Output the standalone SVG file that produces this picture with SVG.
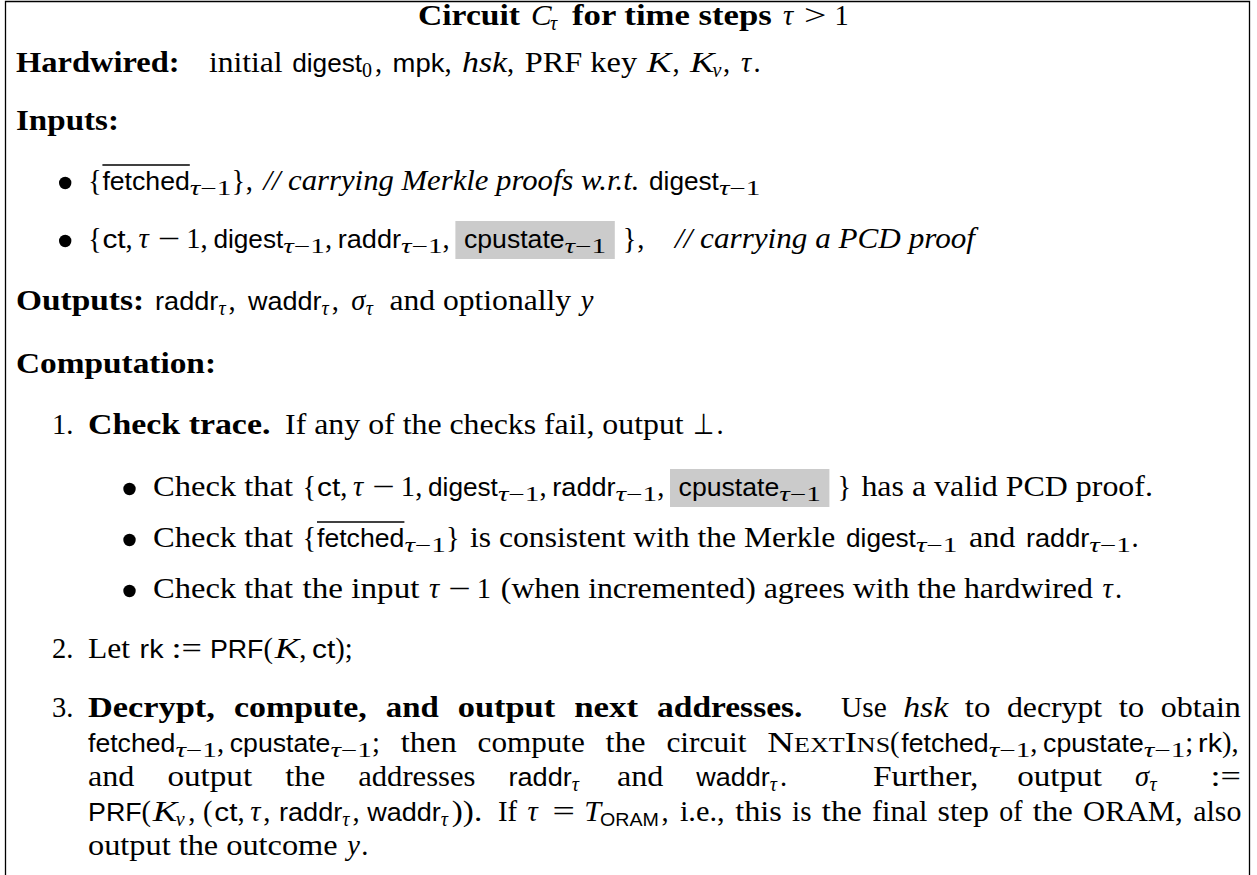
<svg xmlns="http://www.w3.org/2000/svg" width="1257" height="875" viewBox="0 0 1257 875">
<style>
.r,.b,.i,.sr,.si{font-family:"Liberation Serif","Times New Roman",serif;fill:#000}
.r,.b,.i{font-size:28.5px}
.b{font-weight:bold}
.i,.si,.it{font-style:italic}
.s{font-family:"Liberation Sans",Arial,sans-serif;font-size:25.5px;fill:#000}
.sr,.si{font-size:20px}
.ss{font-family:"Liberation Sans",Arial,sans-serif;font-size:18px;fill:#000}
.sc{font-variant:small-caps}
.bul{fill:#000}
.ov{stroke:#000;stroke-width:1.3}
.hl{fill:#cbcbcb}
.frame{fill:none;stroke:#000;stroke-width:1.3}
</style>
<rect width="1257" height="875" fill="#fff"/>
<g id="frame"><path class="frame" d="M5.5,876 V1.5 H1249.5 V876"/></g>

<g id="title">
<text class="b" x="418" y="25" textLength="102" lengthAdjust="spacingAndGlyphs">Circuit</text>
<text class="i" x="531" y="25" textLength="20.6" lengthAdjust="spacingAndGlyphs">C</text>
<text class="si" x="550" y="30">τ</text>
<text class="b" x="572" y="25" textLength="199.8" lengthAdjust="spacingAndGlyphs">for time steps</text>
<text class="i" x="783" y="25">τ</text>
<text class="r" x="804" y="25" textLength="22.4" lengthAdjust="spacingAndGlyphs">&gt;</text>
<text class="r" x="834.4" y="25">1</text>
</g>

<g id="hardwired">
<text class="b" x="16" y="72" textLength="163.6" lengthAdjust="spacingAndGlyphs">Hardwired:</text>
<text class="r" x="209" y="72" textLength="73.6" lengthAdjust="spacingAndGlyphs">initial</text>
<text class="s" x="292.2" y="72" textLength="69.9" lengthAdjust="spacingAndGlyphs">digest</text>
<text class="sr" x="362.1" y="77">0</text>
<text class="r" x="375" y="72">,</text>
<text class="s" x="392.6" y="72" textLength="51.8" lengthAdjust="spacingAndGlyphs">mpk</text>
<text class="r" x="444.4" y="72">,</text>
<text class="i" x="462" y="72" textLength="45.1" lengthAdjust="spacingAndGlyphs">hsk</text>
<text class="r" x="507.1" y="72">,</text>
<text class="r" x="524.7" y="72" textLength="112.4" lengthAdjust="spacingAndGlyphs">PRF key</text>
<text class="i" x="646.7" y="72" textLength="24.5" lengthAdjust="spacingAndGlyphs">K</text>
<text class="r" x="672.4" y="72">,</text>
<text class="i" x="690" y="72" textLength="24.5" lengthAdjust="spacingAndGlyphs">K</text>
<text class="si" x="712.5" y="77">v</text>
<text class="r" x="723" y="72">,</text>
<text class="i" x="741" y="72">τ</text>
<text class="r" x="753.5" y="72">.</text>
</g>

<g id="inputs">
<text class="b" x="16" y="130" textLength="102.9" lengthAdjust="spacingAndGlyphs">Inputs:</text>
</g>

<g id="input-1">
<circle class="bul" cx="65.2" cy="183" r="6.2"/>
<text class="r" x="88" y="190">{</text>
<text class="s" x="102.4" y="190" textLength="87.4" lengthAdjust="spacingAndGlyphs">fetched</text>
<line class="ov" x1="102.4" y1="165" x2="189.8" y2="165"/>
<text class="sr" x="189.8" y="195" textLength="41.6" lengthAdjust="spacingAndGlyphs"><tspan class="it">τ</tspan>−1</text>
<text class="r" x="231.4" y="190">}</text>
<text class="r" x="245.8" y="190">,</text>
<text class="i" x="263.4" y="190" textLength="376" lengthAdjust="spacingAndGlyphs">// carrying Merkle proofs w.r.t.</text>
<text class="s" x="649" y="190" textLength="69.9" lengthAdjust="spacingAndGlyphs">digest</text>
<text class="sr" x="718.9" y="195" textLength="41.6" lengthAdjust="spacingAndGlyphs"><tspan class="it">τ</tspan>−1</text>
</g>

<g id="input-2">
<circle class="bul" cx="65.2" cy="241" r="6.2"/>
<rect class="hl" x="455.4" y="221" width="159.4" height="38"/>
<text class="r" x="88" y="248">{</text>
<text class="s" x="102.4" y="248" textLength="23.2" lengthAdjust="spacingAndGlyphs">ct</text>
<text class="r" x="125.6" y="248">,</text>
<text class="i" x="138.4" y="248">τ</text>
<text class="r" x="157.4" y="248" textLength="22.4" lengthAdjust="spacingAndGlyphs">−</text>
<text class="r" x="186.2" y="248">1</text>
<text class="r" x="200.6" y="248">,</text>
<text class="s" x="213.4" y="248" textLength="69.9" lengthAdjust="spacingAndGlyphs">digest</text>
<text class="sr" x="283.3" y="253" textLength="41.6" lengthAdjust="spacingAndGlyphs"><tspan class="it">τ</tspan>−1</text>
<text class="r" x="324.9" y="248">,</text>
<text class="s" x="337.7" y="248" textLength="63.3" lengthAdjust="spacingAndGlyphs">raddr</text>
<text class="sr" x="401" y="253" textLength="41.6" lengthAdjust="spacingAndGlyphs"><tspan class="it">τ</tspan>−1</text>
<text class="r" x="442.6" y="248">,</text>
<text class="s" x="464" y="248" textLength="100.6" lengthAdjust="spacingAndGlyphs">cpustate</text>
<text class="sr" x="564.6" y="253" textLength="41.6" lengthAdjust="spacingAndGlyphs"><tspan class="it">τ</tspan>−1</text>
<text class="r" x="622.8" y="248">}</text>
<text class="r" x="637.2" y="248">,</text>
<text class="i" x="675" y="248" textLength="300" lengthAdjust="spacingAndGlyphs">// carrying a PCD proof</text>
</g>

<g id="outputs">
<text class="b" x="16" y="310" textLength="128.1" lengthAdjust="spacingAndGlyphs">Outputs:</text>
<text class="s" x="155.1" y="310" textLength="63.3" lengthAdjust="spacingAndGlyphs">raddr</text>
<text class="si" x="218.4" y="315">τ</text>
<text class="r" x="228.5" y="310">,</text>
<text class="s" x="248.1" y="310" textLength="73.5" lengthAdjust="spacingAndGlyphs">waddr</text>
<text class="si" x="321.6" y="315">τ</text>
<text class="r" x="331.7" y="310">,</text>
<text class="i" x="351.3" y="310">σ</text>
<text class="si" x="365.7" y="315">τ</text>
<text class="r" x="389.4" y="310" textLength="181.7" lengthAdjust="spacingAndGlyphs">and optionally</text>
<text class="i" x="580.7" y="310">y</text>
</g>

<g id="computation">
<text class="b" x="16" y="373" textLength="200" lengthAdjust="spacingAndGlyphs">Computation:</text>
</g>

<g id="step-1">
<text class="r" x="52" y="434">1.</text>
<text class="b" x="88" y="434" textLength="182.4" lengthAdjust="spacingAndGlyphs">Check trace.</text>
<text class="r" x="285.1" y="434" textLength="398.6" lengthAdjust="spacingAndGlyphs">If any of the checks fail, output</text>
<text class="r" x="693.3" y="434" textLength="21" lengthAdjust="spacingAndGlyphs">⊥</text>
<text class="r" x="716.5" y="434">.</text>
</g>

<g id="check-1">
<circle class="bul" cx="129.5" cy="489" r="6.2"/>
<rect class="hl" x="670" y="469" width="159.4" height="38"/>
<text class="r" x="153" y="496" textLength="140" lengthAdjust="spacingAndGlyphs">Check that</text>
<text class="r" x="302.6" y="496">{</text>
<text class="s" x="317" y="496" textLength="23.2" lengthAdjust="spacingAndGlyphs">ct</text>
<text class="r" x="340.2" y="496">,</text>
<text class="i" x="353" y="496">τ</text>
<text class="r" x="372" y="496" textLength="22.4" lengthAdjust="spacingAndGlyphs">−</text>
<text class="r" x="400.8" y="496">1</text>
<text class="r" x="415.2" y="496">,</text>
<text class="s" x="428" y="496" textLength="69.9" lengthAdjust="spacingAndGlyphs">digest</text>
<text class="sr" x="497.9" y="501" textLength="41.6" lengthAdjust="spacingAndGlyphs"><tspan class="it">τ</tspan>−1</text>
<text class="r" x="539.5" y="496">,</text>
<text class="s" x="552.3" y="496" textLength="63.3" lengthAdjust="spacingAndGlyphs">raddr</text>
<text class="sr" x="615.6" y="501" textLength="41.6" lengthAdjust="spacingAndGlyphs"><tspan class="it">τ</tspan>−1</text>
<text class="r" x="657.2" y="496">,</text>
<text class="s" x="678.6" y="496" textLength="100.6" lengthAdjust="spacingAndGlyphs">cpustate</text>
<text class="sr" x="779.2" y="501" textLength="41.6" lengthAdjust="spacingAndGlyphs"><tspan class="it">τ</tspan>−1</text>
<text class="r" x="837.4" y="496">}</text>
<text class="r" x="861.4" y="496" textLength="291.5" lengthAdjust="spacingAndGlyphs">has a valid PCD proof.</text>
</g>

<g id="check-2">
<circle class="bul" cx="129.5" cy="540" r="6.2"/>
<text class="r" x="153" y="547" textLength="140" lengthAdjust="spacingAndGlyphs">Check that</text>
<text class="r" x="302.6" y="547">{</text>
<text class="s" x="317" y="547" textLength="87.4" lengthAdjust="spacingAndGlyphs">fetched</text>
<line class="ov" x1="317" y1="522" x2="404.4" y2="522"/>
<text class="sr" x="404.4" y="552" textLength="41.6" lengthAdjust="spacingAndGlyphs"><tspan class="it">τ</tspan>−1</text>
<text class="r" x="446" y="547">}</text>
<text class="r" x="470" y="547" textLength="365.3" lengthAdjust="spacingAndGlyphs">is consistent with the Merkle</text>
<text class="s" x="846" y="547" textLength="69.9" lengthAdjust="spacingAndGlyphs">digest</text>
<text class="sr" x="915.9" y="552" textLength="41.6" lengthAdjust="spacingAndGlyphs"><tspan class="it">τ</tspan>−1</text>
<text class="r" x="969" y="547" textLength="46.4" lengthAdjust="spacingAndGlyphs">and</text>
<text class="s" x="1026" y="547" textLength="63.3" lengthAdjust="spacingAndGlyphs">raddr</text>
<text class="sr" x="1089.3" y="552" textLength="41.6" lengthAdjust="spacingAndGlyphs"><tspan class="it">τ</tspan>−1</text>
<text class="r" x="1131.5" y="547">.</text>
</g>

<g id="check-3">
<circle class="bul" cx="129.5" cy="591" r="6.2"/>
<text class="r" x="153" y="598" textLength="140" lengthAdjust="spacingAndGlyphs">Check that</text>
<text class="r" x="302.6" y="598" textLength="116.8" lengthAdjust="spacingAndGlyphs">the input</text>
<text class="i" x="429" y="598">τ</text>
<text class="r" x="448" y="598" textLength="22.4" lengthAdjust="spacingAndGlyphs">−</text>
<text class="r" x="476.8" y="598">1</text>
<text class="r" x="500.8" y="598" textLength="592" lengthAdjust="spacingAndGlyphs">(when incremented) agrees with the hardwired</text>
<text class="i" x="1102.5" y="598">τ</text>
<text class="r" x="1115" y="598">.</text>
</g>

<g id="step-2">
<text class="r" x="52" y="658">2.</text>
<text class="r" x="88" y="658" textLength="42" lengthAdjust="spacingAndGlyphs">Let</text>
<text class="s" x="139.6" y="658" textLength="23.9" lengthAdjust="spacingAndGlyphs">rk</text>
<text class="r" x="171.5" y="658" textLength="30.4" lengthAdjust="spacingAndGlyphs">:=</text>
<text class="s" x="209.9" y="658" textLength="53.6" lengthAdjust="spacingAndGlyphs">PRF</text>
<text class="r" x="263.5" y="658">(</text>
<text class="i" x="274.7" y="658" textLength="24.5" lengthAdjust="spacingAndGlyphs">K</text>
<text class="r" x="299.2" y="658">,</text>
<text class="s" x="312" y="658" textLength="23.2" lengthAdjust="spacingAndGlyphs">ct</text>
<text class="r" x="335.2" y="658">);</text>
</g>

<g id="step-3">
<text class="r" x="52" y="717">3.</text>
<text class="b" y="717"><tspan x="88" textLength="126.9" lengthAdjust="spacingAndGlyphs">Decrypt,</tspan><tspan x="233.9" textLength="132.9" lengthAdjust="spacingAndGlyphs">compute,</tspan><tspan x="385.8" textLength="52.9" lengthAdjust="spacingAndGlyphs">and</tspan><tspan x="457.7" textLength="97.5" lengthAdjust="spacingAndGlyphs">output</tspan><tspan x="574.2" textLength="63.9" lengthAdjust="spacingAndGlyphs">next</tspan><tspan x="657.1" textLength="145.3" lengthAdjust="spacingAndGlyphs">addresses.</tspan></text>
<text class="r" y="717"><tspan x="841" textLength="45.7" lengthAdjust="spacingAndGlyphs">Use</tspan><tspan x="903.2" class="it" textLength="45.1" lengthAdjust="spacingAndGlyphs">hsk</tspan><tspan x="964.8" textLength="25.6" lengthAdjust="spacingAndGlyphs">to</tspan><tspan x="1006.9" textLength="95.3" lengthAdjust="spacingAndGlyphs">decrypt</tspan><tspan x="1118.7" textLength="25.6" lengthAdjust="spacingAndGlyphs">to</tspan><tspan x="1160.8" textLength="80" lengthAdjust="spacingAndGlyphs">obtain</tspan></text>

<text class="s" x="88" y="751.5" textLength="87.4" lengthAdjust="spacingAndGlyphs">fetched</text>
<text class="sr" x="175.4" y="756.5" textLength="41.6" lengthAdjust="spacingAndGlyphs"><tspan class="it">τ</tspan>−1</text>
<text class="r" x="217" y="751.5">,</text>
<text class="s" x="229.8" y="751.5" textLength="100.6" lengthAdjust="spacingAndGlyphs">cpustate</text>
<text class="sr" x="330.4" y="756.5" textLength="41.6" lengthAdjust="spacingAndGlyphs"><tspan class="it">τ</tspan>−1</text>
<text class="r" x="372" y="751.5">;</text>
<text class="r" y="751.5"><tspan x="400.8" textLength="56" lengthAdjust="spacingAndGlyphs">then</tspan><tspan x="477.6" textLength="107.2" lengthAdjust="spacingAndGlyphs">compute</tspan><tspan x="605.6" textLength="40" lengthAdjust="spacingAndGlyphs">the</tspan><tspan x="666.4" textLength="80.1" lengthAdjust="spacingAndGlyphs">circuit</tspan></text>
<text class="r sc" x="767.3" y="751.5" textLength="122.8" lengthAdjust="spacingAndGlyphs">NextIns</text>
<text class="r" x="890.1" y="751.5">(</text>
<text class="s" x="901.3" y="751.5" textLength="87.4" lengthAdjust="spacingAndGlyphs">fetched</text>
<text class="sr" x="988.7" y="756.5" textLength="41.6" lengthAdjust="spacingAndGlyphs"><tspan class="it">τ</tspan>−1</text>
<text class="r" x="1030.3" y="751.5">,</text>
<text class="s" x="1043.1" y="751.5" textLength="100.6" lengthAdjust="spacingAndGlyphs">cpustate</text>
<text class="sr" x="1143.7" y="756.5" textLength="41.6" lengthAdjust="spacingAndGlyphs"><tspan class="it">τ</tspan>−1</text>
<text class="r" x="1185.3" y="751.5">;</text>
<text class="s" x="1198.1" y="751.5" textLength="23.9" lengthAdjust="spacingAndGlyphs">rk</text>
<text class="r" x="1222" y="751.5">),</text>

<text class="r" y="786"><tspan x="88" textLength="46.4" lengthAdjust="spacingAndGlyphs">and</tspan><tspan x="167.4" textLength="84.8" lengthAdjust="spacingAndGlyphs">output</tspan><tspan x="285.2" textLength="40" lengthAdjust="spacingAndGlyphs">the</tspan><tspan x="358.2" textLength="117.3" lengthAdjust="spacingAndGlyphs">addresses</tspan></text>
<text class="s" x="508.5" y="786" textLength="63.3" lengthAdjust="spacingAndGlyphs">raddr</text>
<text class="si" x="571.8" y="791">τ</text>
<text class="r" x="616.9" y="786" textLength="46.4" lengthAdjust="spacingAndGlyphs">and</text>
<text class="s" x="696.3" y="786" textLength="73.5" lengthAdjust="spacingAndGlyphs">waddr</text>
<text class="si" x="769.8" y="791">τ</text>
<text class="r" x="779.9" y="786">.</text>
<text class="r" y="786"><tspan x="872.9" textLength="105.4" lengthAdjust="spacingAndGlyphs">Further,</tspan><tspan x="1017.2" textLength="84.8" lengthAdjust="spacingAndGlyphs">output</tspan></text>
<text class="i" x="1135" y="786">σ</text>
<text class="si" x="1149.4" y="791">τ</text>
<text class="r" x="1210.5" y="786" textLength="30.4" lengthAdjust="spacingAndGlyphs">:=</text>

<text class="s" x="88" y="820.5" textLength="53.6" lengthAdjust="spacingAndGlyphs">PRF</text>
<text class="r" x="141.6" y="820.5">(</text>
<text class="i" x="152.8" y="820.5" textLength="24.5" lengthAdjust="spacingAndGlyphs">K</text>
<text class="si" x="175.8" y="825.5">v</text>
<text class="r" x="188.3" y="820.5">,</text>
<text class="r" x="203.1" y="820.5">(</text>
<text class="s" x="214.3" y="820.5" textLength="23.2" lengthAdjust="spacingAndGlyphs">ct</text>
<text class="r" x="237.5" y="820.5">,</text>
<text class="i" x="250.3" y="820.5">τ</text>
<text class="r" x="263.2" y="820.5">,</text>
<text class="s" x="279" y="820.5" textLength="63.3" lengthAdjust="spacingAndGlyphs">raddr</text>
<text class="si" x="342.3" y="825.5">τ</text>
<text class="r" x="352.4" y="820.5">,</text>
<text class="s" x="367.2" y="820.5" textLength="73.5" lengthAdjust="spacingAndGlyphs">waddr</text>
<text class="si" x="440.7" y="825.5">τ</text>
<text class="r" x="451.8" y="820.5" textLength="30.4" lengthAdjust="spacingAndGlyphs">)).</text>
<text class="r" x="498" y="820.5" textLength="19.2" lengthAdjust="spacingAndGlyphs">If</text>
<text class="i" x="527.5" y="820.5">τ</text>
<text class="r" x="552.6" y="820.5" textLength="22.4" lengthAdjust="spacingAndGlyphs">=</text>
<text class="i" x="584.2" y="820.5" textLength="16.8" lengthAdjust="spacingAndGlyphs">T</text>
<text class="ss" x="600" y="825.5" textLength="58.8" lengthAdjust="spacingAndGlyphs">ORAM</text>
<text class="r" x="661.4" y="820.5">,</text>
<text class="r" y="820.5"><tspan x="679.9" textLength="44.8" lengthAdjust="spacingAndGlyphs">i.e.,</tspan><tspan x="735.2" textLength="46.6" lengthAdjust="spacingAndGlyphs">this</tspan><tspan x="792.1" textLength="19.4" lengthAdjust="spacingAndGlyphs">is</tspan><tspan x="821.8" textLength="40" lengthAdjust="spacingAndGlyphs">the</tspan><tspan x="872.1" textLength="55.2" lengthAdjust="spacingAndGlyphs">final</tspan><tspan x="937.6" textLength="51.4" lengthAdjust="spacingAndGlyphs">step</tspan><tspan x="999.3" textLength="23.2" lengthAdjust="spacingAndGlyphs">of</tspan><tspan x="1032.8" textLength="40" lengthAdjust="spacingAndGlyphs">the</tspan><tspan x="1083.1" textLength="99.6" lengthAdjust="spacingAndGlyphs">ORAM,</tspan><tspan x="1193.2" textLength="48.2" lengthAdjust="spacingAndGlyphs">also</tspan></text>

<text class="r" x="88" y="855" textLength="249.6" lengthAdjust="spacingAndGlyphs">output the outcome</text>
<text class="i" x="347.2" y="855">y</text>
<text class="r" x="361.3" y="855">.</text>
</g>
</svg>
